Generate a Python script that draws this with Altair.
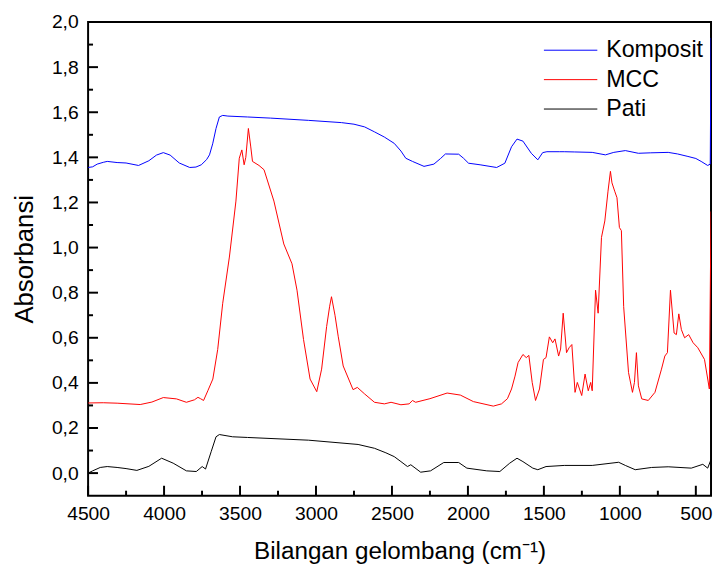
import altair as alt
import pandas as pd

FONT = "Liberation Sans"

series_names = ["Komposit", "MCC", "Pati"]
series_colors = ["#0000ff", "#ff0000", "#000000"]

komposit_wn = [4500, 4470, 4440, 4400, 4374, 4309, 4250, 4168, 4100, 4050, 4005, 3960, 3900, 3831,
               3790, 3755, 3720, 3701, 3680, 3658, 3636, 3614, 3580, 3451, 3300, 3049, 2832, 2750,
               2680, 2615, 2550, 2485, 2441, 2409, 2365, 2289, 2224, 2180, 2148, 2061, 2029, 1996,
               1920, 1811, 1757, 1713, 1677, 1638, 1583, 1540, 1508, 1480, 1399, 1366, 1300, 1182,
               1095, 1040, 964, 878, 800, 682, 620, 552, 500, 465, 422, 405, 400]
komposit_abs = [1.355, 1.358, 1.370, 1.378, 1.382, 1.377, 1.375, 1.364, 1.385, 1.410, 1.421, 1.410,
                1.375, 1.355, 1.357, 1.367, 1.390, 1.411, 1.460, 1.528, 1.579, 1.586, 1.583, 1.579,
                1.574, 1.564, 1.554, 1.547, 1.535, 1.513, 1.490, 1.462, 1.428, 1.396, 1.382, 1.360,
                1.370, 1.395, 1.415, 1.414, 1.396, 1.374, 1.367, 1.355, 1.374, 1.447, 1.481, 1.472,
                1.418, 1.389, 1.421, 1.425, 1.425, 1.425, 1.424, 1.422, 1.411, 1.422, 1.430, 1.418,
                1.420, 1.422, 1.415, 1.404, 1.395, 1.382, 1.364, 1.370, 1.930]

mcc_wn = [4500, 4400, 4309, 4157, 4080, 4005, 3918, 3853, 3800, 3777, 3760, 3740, 3712, 3679, 3647,
          3614, 3570, 3527, 3505, 3488, 3473, 3462, 3445, 3430, 3418, 3375, 3342, 3277, 3212, 3158,
          3125, 3082, 3039, 2995, 2963, 2930, 2910, 2898, 2875, 2854, 2821, 2756, 2728, 2680, 2615,
          2550, 2506, 2441, 2387, 2365, 2344, 2250, 2137, 2050, 1964, 1833, 1779, 1740, 1713, 1690,
          1670, 1638, 1616, 1599, 1577, 1555, 1529, 1503, 1486, 1464, 1442, 1427, 1403, 1390, 1373,
          1351, 1334, 1316, 1295, 1280, 1251, 1229, 1208, 1192, 1182, 1160, 1143, 1121, 1099, 1078,
          1062, 1052, 1034, 1019, 1003, 990, 975, 943, 917, 904, 891, 878, 856, 813, 769, 726, 704,
          687, 667, 643, 628, 612, 595, 574, 547, 518, 487, 443, 411, 400]
mcc_abs = [0.311, 0.312, 0.310, 0.304, 0.315, 0.335, 0.329, 0.314, 0.325, 0.336, 0.330, 0.322, 0.365,
           0.417, 0.548, 0.753, 0.958, 1.206, 1.396, 1.433, 1.367, 1.400, 1.528, 1.450, 1.382, 1.364,
           1.345, 1.206, 1.016, 0.928, 0.811, 0.592, 0.417, 0.361, 0.461, 0.650, 0.740, 0.782, 0.700,
           0.607, 0.475, 0.370, 0.380, 0.351, 0.314, 0.307, 0.314, 0.303, 0.307, 0.322, 0.314, 0.330,
           0.355, 0.346, 0.317, 0.297, 0.307, 0.330, 0.373, 0.430, 0.490, 0.526, 0.512, 0.522, 0.402,
           0.322, 0.373, 0.504, 0.512, 0.604, 0.578, 0.595, 0.519, 0.550, 0.709, 0.534, 0.556, 0.570,
           0.358, 0.402, 0.344, 0.439, 0.365, 0.402, 0.365, 0.811, 0.709, 1.045, 1.118, 1.250, 1.338,
           1.287, 1.250, 1.221, 1.089, 1.075, 0.738, 0.446, 0.358, 0.402, 0.534, 0.387, 0.329, 0.322,
           0.358, 0.461, 0.519, 0.534, 0.811, 0.621, 0.614, 0.706, 0.636, 0.600, 0.614, 0.578, 0.556,
           0.504, 0.373, 1.160]

pati_wn = [4500, 4470, 4420, 4374, 4309, 4250, 4179, 4100, 4016, 3940, 3853, 3788, 3749, 3727, 3690,
           3658, 3636, 3549, 3451, 3049, 2723, 2615, 2540, 2485, 2441, 2398, 2376, 2311, 2246, 2159,
           2061, 2007, 1876, 1790, 1725, 1677, 1638, 1573, 1540, 1486, 1366, 1182, 1008, 964, 899,
           791, 682, 530, 454, 422, 400]
pati_abs = [0.000, 0.010, 0.025, 0.029, 0.025, 0.020, 0.012, 0.030, 0.066, 0.044, 0.010, 0.007, 0.029,
            0.018, 0.095, 0.161, 0.171, 0.161, 0.158, 0.146, 0.127, 0.110, 0.090, 0.073, 0.051, 0.029,
            0.037, 0.004, 0.010, 0.047, 0.047, 0.022, 0.010, 0.007, 0.044, 0.066, 0.051, 0.022, 0.015,
            0.029, 0.034, 0.034, 0.048, 0.034, 0.015, 0.025, 0.028, 0.022, 0.039, 0.022, 0.060]

x_major = [4500, 4000, 3500, 3000, 2500, 2000, 1500, 1000, 500]
x_minor = [4250, 3750, 3250, 2750, 2250, 1750, 1250, 750]
y_major = [0.0, 0.2, 0.4, 0.6, 0.8, 1.0, 1.2, 1.4, 1.6, 1.8, 2.0]
y_minor = [0.1, 0.3, 0.5, 0.7, 0.9, 1.1, 1.3, 1.5, 1.7, 1.9]

rows = []
for name, wns, vals in zip(series_names, [komposit_wn, mcc_wn, pati_wn],
                           [komposit_abs, mcc_abs, pati_abs]):
    rows += [{"series": name, "wn": w, "abs": a} for w, a in zip(wns, vals)]
df = pd.DataFrame(rows)

W, H = 630, 479

xscale = alt.Scale(domain=[400, 4500], reverse=True, nice=False, zero=False)
yscale = alt.Scale(domain=[-0.1, 2.0], nice=False, zero=False)
cscale = alt.Scale(domain=series_names, range=series_colors)

xaxis = alt.Axis(values=x_major, format="d", ticks=False, domain=False, grid=False,
                 labelFont=FONT, labelFontSize=19.5, labelPadding=9, labelColor="black",
                 labelFlush=False, labelOverlap=False,
                 title="Bilangan gelombang (cm⁻¹)", titleFont=FONT, titleFontSize=24.5,
                 titleFontWeight="normal", titleColor="black", titleX=W / 2, titleY=64,
                 titleBaseline="alphabetic", titleAlign="center")
yaxis = alt.Axis(values=y_major, labelExpr="replace(format(datum.value, '.1f'), '.', ',')",
                 ticks=False, domain=False, grid=False,
                 labelFont=FONT, labelFontSize=19.5, labelPadding=10, labelColor="black",
                 labelFlush=False, labelOverlap=False,
                 title="Absorbansi", titleFont=FONT, titleFontSize=26, titleFontWeight="normal",
                 titleColor="black", titleX=-56, titleY=H / 2, titleAngle=270,
                 titleBaseline="alphabetic", titleAlign="center")

lines = alt.Chart(df).mark_line(strokeWidth=1, clip=True).encode(
    x=alt.X("wn:Q", scale=xscale, axis=xaxis),
    y=alt.Y("abs:Q", scale=yscale, axis=yaxis),
    color=alt.Color("series:N", scale=cscale, legend=None),
)

def xticks(vals, length):
    return alt.Chart(pd.DataFrame({"wn": vals})).mark_rule(color="black", strokeWidth=2).encode(
        x=alt.X("wn:Q", scale=xscale, axis=xaxis),
        y=alt.value(H), y2=alt.value(H - length),
    )

def yticks(vals, length):
    return alt.Chart(pd.DataFrame({"abs": vals})).mark_rule(color="black", strokeWidth=2).encode(
        y=alt.Y("abs:Q", scale=yscale, axis=yaxis),
        x=alt.value(0), x2=alt.value(length),
    )

main = alt.layer(lines, xticks(x_major, 10), xticks(x_minor, 5),
                 yticks(y_major, 10), yticks(y_minor, 5))

leg_df = pd.DataFrame({"series": series_names})
leg_y = alt.Y("series:N", axis=None,
              scale=alt.Scale(type="point", domain=series_names, range=[28.5, 88], padding=0))
leg_lines = alt.Chart(leg_df).mark_rule(strokeWidth=1).encode(
    y=leg_y, x=alt.value(461), x2=alt.value(515),
    color=alt.Color("series:N", scale=cscale, legend=None),
)
leg_text = alt.Chart(leg_df).mark_text(align="left", baseline="middle", font=FONT,
                                        fontSize=23.5, color="black").encode(
    y=leg_y, x=alt.value(524), text="series:N",
)
legend = alt.layer(leg_lines, leg_text)

chart = alt.layer(main, legend).resolve_scale(y="independent").properties(
    width=W, height=H,
    padding={"left": 81, "top": 11, "right": 2, "bottom": 72},
    autosize=alt.AutoSizeParams(type="none"),
    background="white",
).configure_view(stroke="black", strokeWidth=2)

chart.save("out.html", embed_options={"renderer": "svg", "actions": False})
